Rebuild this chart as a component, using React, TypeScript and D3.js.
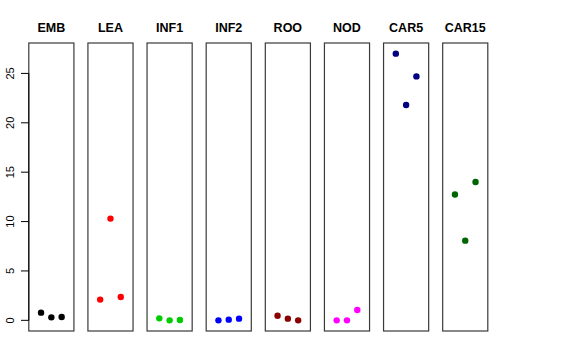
import React from "react";
import * as d3 from "d3";

const categories = ["EMB", "LEA", "INF1", "INF2", "ROO", "NOD", "CAR5", "CAR15"];
const colors = ["#000000", "#FF0000", "#00CD00", "#0000FF", "#8B0000", "#FF00FF", "#000080", "#006400"];
const values: number[][] = [
  [0.78, 0.3, 0.33],
  [2.1, 10.3, 2.36],
  [0.2, 0.0, 0.03],
  [0.0, 0.07, 0.17],
  [0.47, 0.17, 0.0],
  [0.0, 0.0, 1.05],
  [27.0, 21.8, 24.7],
  [12.74, 8.07, 14.0],
];
const yTicks = [0, 5, 10, 15, 20, 25];

const W = 576;
const H = 360;
const top = 43;
const bottom = 331;

export default function App() {
  const all = values.flat();
  const mn = d3.min(all)!;
  const mx = d3.max(all)!;
  const pad = (mx - mn) * 0.04;
  const y = d3.scaleLinear().domain([mn - pad, mx + pad]).range([bottom, top]);
  const x = d3.scaleBand<string>().domain(categories).range([28.8, 487.8]).paddingInner(0.237).paddingOuter(0);
  const bw = x.bandwidth();
  const jit = d3.scalePoint<number>().domain([0, 1, 2]);

  return (
    <svg width={W} height={H} style={{ position: "absolute", left: 0, top: 0, background: "#fff" }}
      fontFamily="'Liberation Sans', Arial, sans-serif">
      {categories.map((c, i) => {
        const x0 = x(c)!;
        const cx = x0 + bw / 2;
        jit.range([cx - 10.3, cx + 10.3]);
        return (
          <g key={c}>
            <rect x={x0} y={top} width={bw} height={bottom - top} fill="none" stroke="#3a3a3a" strokeWidth={1.2} />
            <text x={cx} y={32} textAnchor="middle" fontWeight="bold" fontSize={12.5}>{c}</text>
            {values[i].map((v, j) => (
              <circle key={j} cx={jit(j)!} cy={y(v)} r={3.2} fill={colors[i]} />
            ))}
          </g>
        );
      })}
      <g>
        <line x1={x(categories[0])!} x2={x(categories[0])!} y1={y(0)} y2={y(25)} stroke="#000" />
        {yTicks.map((t) => (
          <g key={t} transform={`translate(0,${y(t)})`}>
            <line x1={21} x2={x(categories[0])!} stroke="#000" />
            <text transform="translate(13.7,0) rotate(-90)" textAnchor="middle" fontSize={11}>{t}</text>
          </g>
        ))}
      </g>
    </svg>
  );
}
